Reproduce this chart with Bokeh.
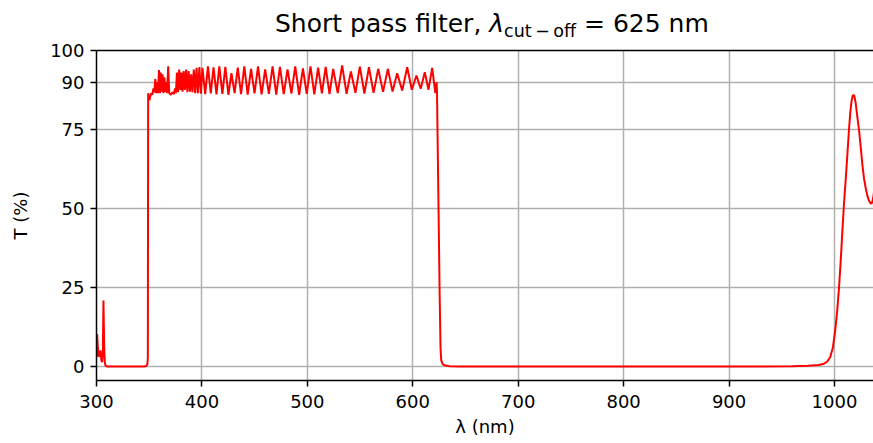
from bokeh.plotting import figure
from bokeh.models import Range1d, FixedTicker, LinearAxis, Div
from bokeh.layouts import column
from bokeh.embed import file_html
from bokeh.resources import INLINE

# ---- data ----
# UV leakage and lower stop band
uv_wl = [300.0, 300.6, 301.3, 302.0, 303.0, 303.8, 304.6, 305.3, 306.0, 306.6,
         307.3, 307.9, 308.5, 310.0, 345.0, 346.5, 347.5, 348.3, 348.7]
uv_T = [3.0, 10.3, 6.0, 3.0, 4.0, 5.1, 2.0, 1.4, 4.0, 20.9,
        6.0, 1.4, 0.3, 0.0, 0.0, 0.05, 0.2, 0.8, 3.0]

# irregular onset of the pass band
onset_wl = [349.0, 349.6, 350.3, 351.0, 352.0, 353.0, 354.0, 354.8, 355.8, 356.6,
            357.6, 358.4, 359.3, 360.2, 361.0, 361.8, 362.6, 363.5, 364.4, 365.3,
            366.2, 367.0, 368.0, 369.0, 370.5, 372.0, 373.5, 374.5, 375.3, 376.3,
            377.3, 378.4, 379.5, 380.6, 381.6, 382.7, 383.8, 385.0, 386.2, 387.4,
            388.6, 389.8, 391.0, 392.3, 393.6, 394.9, 396.2, 397.6, 399.0]
onset_T = [86.5, 85.0, 84.3, 85.5, 86.5, 86.0, 88.0, 86.8, 91.0, 86.5,
           90.0, 86.5, 93.8, 86.5, 93.0, 87.0, 92.5, 86.5, 91.5, 86.8,
           90.0, 86.5, 95.0, 86.5, 86.0, 86.8, 86.2, 88.0, 86.5, 93.0,
           86.8, 94.0, 87.5, 93.0, 87.0, 93.5, 87.5, 94.0, 86.8, 93.5,
           87.0, 92.5, 86.8, 94.0, 86.5, 94.5, 86.5, 94.8, 86.3]

# regular pass-band ripple: maxima and minima
peak_wl = [400.5, 405.7, 411.0, 416.5, 422.2, 428.0, 434.0, 440.2, 446.6, 453.2,
           460.0, 467.0, 474.0, 481.2, 488.5, 495.8, 503.0, 510.2, 517.4, 524.5,
           533.0, 541.3, 549.8, 558.4, 567.2, 576.4, 585.2, 594.7, 603.5, 611.4,
           618.4]
peak_T = [94.5, 95.0, 94.7, 95.0, 94.8, 92.8, 94.6, 95.0, 94.2, 95.0,
          94.0, 95.0, 94.8, 94.0, 95.0, 94.3, 95.0, 94.6, 94.8, 94.2,
          95.3, 93.4, 94.9, 94.7, 94.2, 94.2, 92.8, 94.7, 92.1, 93.1,
          94.5]
trough_wl = [403.1, 408.4, 413.8, 419.4, 425.1, 431.0, 437.1, 443.4, 449.9, 456.6,
             463.5, 470.5, 477.6, 484.9, 492.2, 499.4, 506.6, 513.8, 521.0, 528.8,
             537.2, 545.6, 554.1, 562.8, 571.8, 580.8, 590.0, 599.1, 607.5, 614.9]
trough_T = [86.2, 86.4, 86.1, 86.3, 86.0, 86.5, 86.2, 86.0, 86.4, 86.1,
            86.3, 86.0, 86.2, 86.4, 86.0, 86.3, 86.1, 86.4, 86.2, 86.5,
            86.3, 86.6, 86.4, 86.6, 86.9, 87.0, 87.3, 87.6, 87.9, 87.6]

# cut-off edge and long stop band
edge_wl = [621.4, 622.6, 623.0, 623.5, 624.5, 625.5, 626.3, 627.0, 628.5, 631.0,
           635.0, 645.0, 700.0, 900.0, 960.0, 975.0, 985.0, 990.0]
edge_T = [86.5, 90.0, 86.3, 73.5, 48.0, 22.4, 6.0, 1.9, 0.7, 0.3,
          0.1, 0.0, 0.0, 0.0, 0.05, 0.2, 0.5, 0.9]

# near-infrared side band
ir_wl = [993.0, 996.0, 998.5, 1001.0, 1002.8, 1004.3, 1006.0, 1007.5, 1009.0, 1010.6,
         1012.2, 1013.7, 1015.0, 1016.2, 1017.2, 1018.0, 1018.9, 1020.0, 1021.5, 1023.3,
         1025.0, 1026.4, 1028.0, 1029.6, 1031.2, 1032.7, 1034.0, 1035.0, 1036.0, 1037.0,
         1040.0]
ir_T = [1.5, 3.0, 6.0, 12.4, 18.5, 25.0, 34.0, 43.0, 51.5, 59.0,
        67.0, 74.7, 80.5, 84.0, 85.6, 86.0, 85.5, 83.6, 79.5, 74.7,
        69.0, 64.0, 59.5, 56.5, 54.0, 52.5, 51.7, 51.5, 52.2, 54.0,
        62.0]

x_ticks = [300, 400, 500, 600, 700, 800, 900, 1000]
y_ticks = [0, 25, 50, 75, 90, 100]

pairs = sorted(list(zip(uv_wl, uv_T)) + list(zip(onset_wl, onset_T)) +
               list(zip(peak_wl, peak_T)) + list(zip(trough_wl, trough_T)) +
               list(zip(edge_wl, edge_T)) + list(zip(ir_wl, ir_T)))
wl = [a for a, b in pairs]
T = [b for a, b in pairs]

FONT = "DejaVu Sans"

p = figure(width=873, height=405, output_backend="svg", toolbar_location=None,
           x_range=Range1d(300, 1037), y_range=Range1d(-4.43, 100),
           min_border_left=96, min_border_right=0, min_border_top=12,
           min_border_bottom=63)
p.outline_line_color = None
p.background_fill_color = "white"
p.border_fill_color = "white"

p.xaxis.ticker = FixedTicker(ticks=x_ticks)
p.yaxis.ticker = FixedTicker(ticks=y_ticks)
for ax in (p.xaxis[0], p.yaxis[0]):
    ax.axis_line_color = "black"
    ax.axis_line_width = 1.5
    ax.major_tick_line_color = "black"
    ax.major_tick_line_width = 1.5
    ax.major_tick_out = 6
    ax.major_tick_in = 0
    ax.minor_tick_line_color = None
    ax.major_label_text_font = FONT
    ax.major_label_text_font_size = "18px"
    ax.major_label_text_color = "black"
    ax.axis_label_text_font = FONT
    ax.axis_label_text_font_size = "18px"
    ax.axis_label_text_font_style = "normal"
    ax.axis_label_text_color = "black"

p.xaxis.axis_label = "λ (nm)"
p.xaxis.major_label_standoff = 8
p.xaxis.axis_label_standoff = 5
p.yaxis.axis_label = "T (%)"
p.yaxis.major_label_standoff = 6
p.yaxis.axis_label_standoff = 16

top = LinearAxis(ticker=FixedTicker(ticks=[]), axis_line_color="black", axis_line_width=1.5,
                 major_tick_line_color=None, minor_tick_line_color=None, major_tick_out=0,
                 major_tick_in=0, major_label_text_font_size="0px", major_label_standoff=0)
p.add_layout(top, "above")

p.xgrid.grid_line_color = "#b0b0b0"
p.xgrid.grid_line_width = 1.5
p.ygrid.grid_line_color = "#b0b0b0"
p.ygrid.grid_line_width = 1.5

p.line(wl, T, line_color="red", line_width=2)

title_html = (
    '<div style="position:relative; left:275px; top:11px; font-family:\'DejaVu Sans\'; '
    'font-size:25px; line-height:1; white-space:nowrap; color:black;">'
    'Short pass filter, <i>λ</i><span style="font-size:17.5px; position:relative; top:5px;">'
    'cut\u2009\u2212\u2009off</span> = 625 nm</div>'
)
title = Div(text=title_html, width=873, height=38, margin=(0, 0, 0, 0))

layout = column(title, p, spacing=0)

open("out.html", "w").write(file_html(layout, INLINE))
